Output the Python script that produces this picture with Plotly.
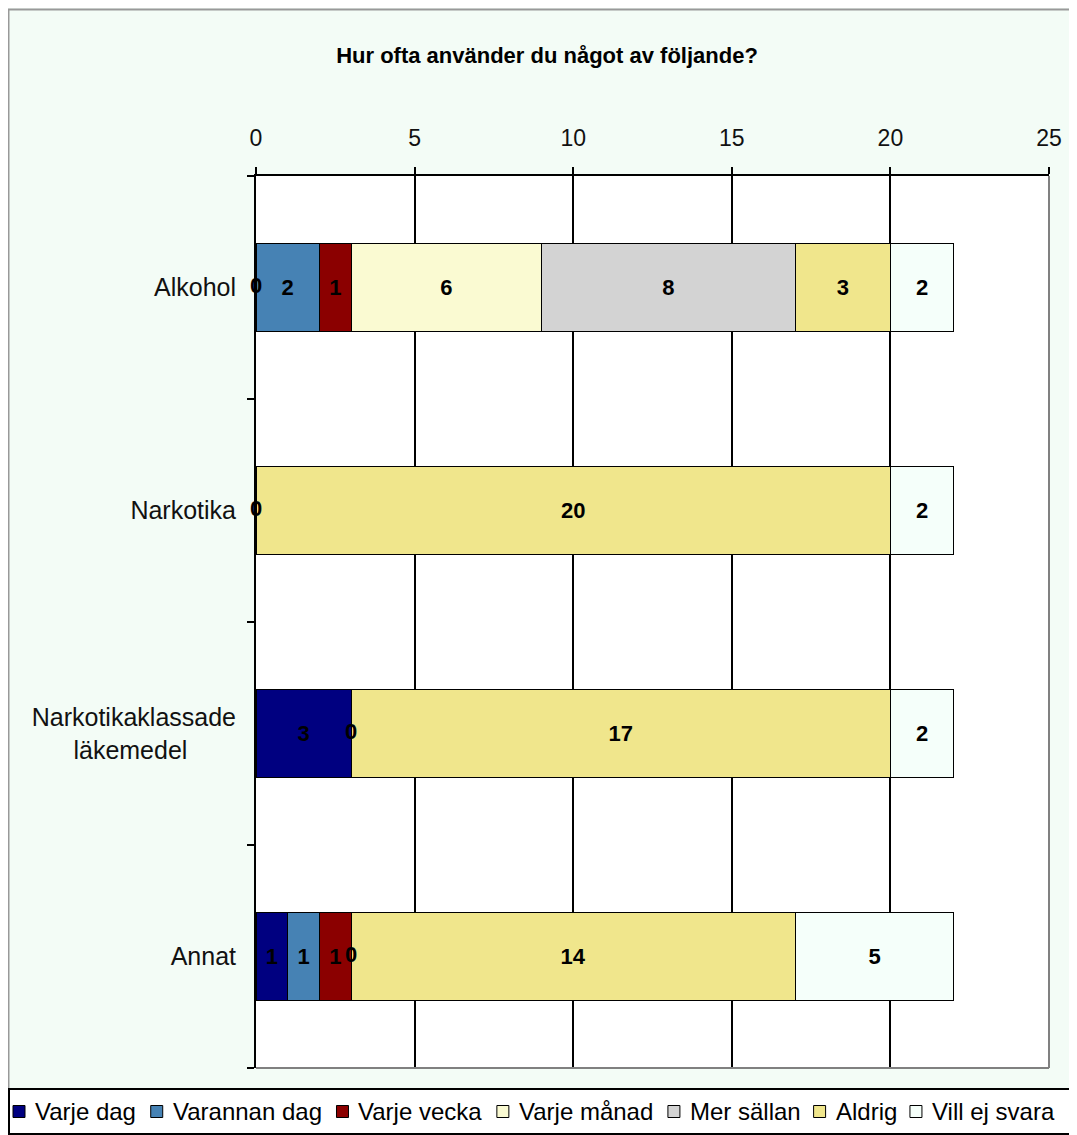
import plotly.graph_objects as go

categories = ["Alkohol", "Narkotika", "Narkotikaklassade läkemedel", "Annat"]
category_labels = ["Alkohol", "Narkotika",
                   "Narkotikaklassade<br>läkemedel" + "\u00a0" * 7, "Annat"]
series_names = ["Varje dag", "Varannan dag", "Varje vecka", "Varje månad",
                "Mer sällan", "Aldrig", "Vill ej svara"]
varje_dag = [0, 0, 3, 1]
varannan_dag = [2, None, None, 1]
varje_vecka = [1, None, None, 1]
varje_manad = [6, None, 0, 0]
mer_sallan = [8, None, None, None]
aldrig = [3, 20, 17, 14]
vill_ej_svara = [2, 2, 2, 5]
x_ticks = [0, 5, 10, 15, 20, 25]

series_values = [varje_dag, varannan_dag, varje_vecka, varje_manad,
                 mer_sallan, aldrig, vill_ej_svara]
colors = ["#000080", "#4682B4", "#8B0000", "#FAFAD2", "#D3D3D3", "#F0E68C", "#F5FFFA"]

FONT = "Liberation Sans, Arial, sans-serif"
LABEL_FONT = dict(family=FONT, size=22, color="black", weight="bold")

# figure geometry (figure pixels)
W, H = 1069, 1127
ML, MR, MT, MB = 248, 28, 168, 67
PW, PH = W - ML - MR, H - MT - MB


def px_to_paper_x(px):
    return (px - ML) / PW


def px_to_paper_y(py):
    return (H - MB - py) / PH


fig = go.Figure()

for name, vals, col in zip(series_names, series_values, colors):
    xs = [v if v is not None else 0 for v in vals]
    fig.add_trace(go.Bar(
        name=name, y=categories, x=xs, orientation="h",
        marker=dict(color=col, line=dict(color="black", width=1.2)),
        text=[str(v) if (v is not None and v > 0) else "" for v in vals],
        textposition="inside", insidetextanchor="middle", textangle=0,
        constraintext="none",
        insidetextfont=LABEL_FONT,
        hoverinfo="skip", showlegend=False,
    ))

# zero-value labels at cumulative positions
zx, zy = [], []
for i, cat in enumerate(categories):
    cum = 0
    for vals in series_values:
        v = vals[i]
        if v is None:
            continue
        if v == 0:
            zx.append(cum)
            zy.append(cat)
        cum += v
fig.add_trace(go.Scatter(
    x=zx, y=zy, mode="text", text=["0"] * len(zx), showlegend=False,
    textfont=LABEL_FONT, hoverinfo="skip", cliponaxis=False,
))

# ---- custom legend (single row, like the original) ----
ARIAL_W = {"V": 667, "a": 556, "r": 333, "j": 222, "e": 556, " ": 278, "d": 556,
           "g": 556, "n": 556, "c": 500, "k": 500, "m": 833, "å": 556, "M": 833,
           "s": 500, "ä": 556, "l": 222, "A": 667, "i": 222, "v": 500}
LEG_FS = 24
SW = 12
GAP_SW = 10
GAP_TXT = 13
leg_top, leg_bot = 1081, 1126
leg_cy = (leg_top + leg_bot) / 2

shapes = [
    dict(type="line", xref="paper", yref="paper", x0=1, x1=1, y0=0, y1=1,
         line=dict(color="#808080", width=2), layer="above"),
    dict(type="line", xref="paper", yref="paper", x0=0, x1=1, y0=0, y1=0,
         line=dict(color="#808080", width=2), layer="above"),
    dict(type="rect", xref="paper", yref="paper", x0=px_to_paper_x(0.5), x1=1.1,
         y0=-0.2, y1=px_to_paper_y(1.5), line=dict(color="#999999", width=2),
         fillcolor="rgba(0,0,0,0)", layer="below"),
    dict(type="rect", xref="paper", yref="paper",
         x0=px_to_paper_x(1), x1=px_to_paper_x(W + 20),
         y0=px_to_paper_y(leg_bot), y1=px_to_paper_y(leg_top),
         line=dict(color="black", width=2), fillcolor="white", layer="above"),
]
annotations = []
cx = 5
for name, col in zip(series_names, colors):
    shapes.append(dict(
        type="rect", xref="paper", yref="paper",
        x0=px_to_paper_x(cx), x1=px_to_paper_x(cx + SW),
        y0=px_to_paper_y(leg_cy + SW / 2), y1=px_to_paper_y(leg_cy - SW / 2),
        line=dict(color="black", width=1), fillcolor=col, layer="above"))
    cx += SW + GAP_SW
    annotations.append(dict(
        text=name, xref="paper", yref="paper", x=px_to_paper_x(cx - 2),
        y=px_to_paper_y(leg_cy), xanchor="left", yanchor="middle",
        showarrow=False, font=dict(family=FONT, size=LEG_FS, color="black")))
    tw = sum(ARIAL_W.get(ch, 556) for ch in name) / 1000 * LEG_FS
    cx += tw + GAP_TXT

fig.update_layout(
    width=W, height=H,
    barmode="stack", bargap=0.607,
    paper_bgcolor="#F3FCF6", plot_bgcolor="white",
    margin=dict(l=ML, r=MR, t=MT, b=MB, autoexpand=False),
    font=dict(family=FONT, size=23, color="#111111"),
    title=dict(text="<b>Hur ofta använder du något av följande?</b>",
               x=539 / W, xref="container", xanchor="center",
               y=1 - 47 / H, yref="container", yanchor="middle",
               font=dict(family=FONT, size=22, color="black")),
    showlegend=False,
    xaxis=dict(side="top", range=[0, 25], tickvals=x_ticks,
               ticks="outside", ticklen=7, tickcolor="black", tickwidth=1.5,
               showgrid=True, gridcolor="black", gridwidth=1.5,
               showline=True, linecolor="black", linewidth=2,
               zeroline=False, fixedrange=True, ticklabelstandoff=12,
               tickfont=dict(family=FONT, size=23, color="#111111")),
    yaxis=dict(autorange="reversed", tickson="boundaries",
               tickmode="array", tickvals=categories, ticktext=category_labels,
               ticks="outside", ticklen=7, tickcolor="black", tickwidth=1.5,
               showline=True, linecolor="black", linewidth=2,
               showgrid=False, fixedrange=True, ticklabelstandoff=13,
               tickfont=dict(family=FONT, size=25, color="#111111")),
    shapes=shapes,
    annotations=annotations,
)

fig.write_html("out.html")
